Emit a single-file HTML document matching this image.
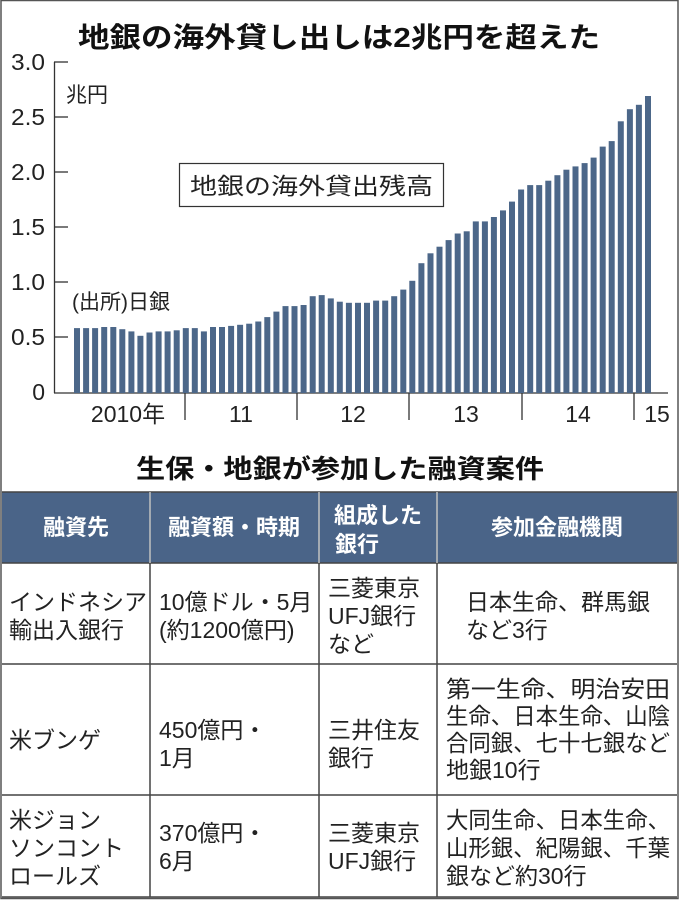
<!DOCTYPE html>
<html><head><meta charset="utf-8"><style>
html,body{margin:0;padding:0;background:#fff;}
body{width:680px;height:900px;position:relative;overflow:hidden;font-family:"Liberation Sans","Noto Sans CJK JP",sans-serif;}
svg{position:absolute;left:0;top:0;}
</style></head><body>
<svg width="680" height="900" viewBox="0 0 680 900" xmlns="http://www.w3.org/2000/svg" font-family="Liberation Sans, Noto Sans CJK JP, sans-serif">
<rect x="1" y="0.5" width="677" height="898" fill="none" stroke="#555" stroke-width="1.5"/>
<text x="78" y="47" font-size="28" font-weight="bold" fill="#111" textLength="522" lengthAdjust="spacingAndGlyphs">地銀の海外貸し出しは2兆円を超えた</text>
<g font-size="23" fill="#222" text-anchor="end">
<text x="45" y="70" textLength="34" lengthAdjust="spacingAndGlyphs">3.0</text>
<text x="45" y="125" textLength="34" lengthAdjust="spacingAndGlyphs">2.5</text>
<text x="45" y="180" textLength="34" lengthAdjust="spacingAndGlyphs">2.0</text>
<text x="45" y="235" textLength="34" lengthAdjust="spacingAndGlyphs">1.5</text>
<text x="45" y="290" textLength="34" lengthAdjust="spacingAndGlyphs">1.0</text>
<text x="45" y="345" textLength="34" lengthAdjust="spacingAndGlyphs">0.5</text>
<text x="45" y="400">0</text>
</g>
<g stroke="#333" stroke-width="1.3">
<line x1="54.5" y1="62" x2="54.5" y2="393"/>
<line x1="54" y1="62" x2="68" y2="62"/>
<line x1="54" y1="117" x2="68" y2="117"/>
<line x1="54" y1="172" x2="68" y2="172"/>
<line x1="54" y1="227" x2="68" y2="227"/>
<line x1="54" y1="282" x2="68" y2="282"/>
<line x1="54" y1="337" x2="68" y2="337"/>
<line x1="54" y1="393" x2="668" y2="393"/>
<line x1="185" y1="393" x2="185" y2="420"/>
<line x1="297" y1="393" x2="297" y2="420"/>
<line x1="409" y1="393" x2="409" y2="420"/>
<line x1="522" y1="393" x2="522" y2="420"/>
<line x1="634" y1="393" x2="634" y2="420"/>
</g>
<text x="66" y="102" font-size="21" fill="#222">兆円</text>
<text x="72" y="309" font-size="21" fill="#222">(出所)日銀</text>
<rect x="179.5" y="163.5" width="264" height="43" fill="#fff" stroke="#333" stroke-width="1.2"/>
<text x="190" y="194" font-size="23" fill="#222" textLength="243" lengthAdjust="spacingAndGlyphs">地銀の海外貸出残高</text>
<g font-size="23" fill="#222" text-anchor="middle">
<text x="128" y="422">2010年</text>
<text x="241" y="422">11</text>
<text x="353" y="422">12</text>
<text x="466" y="422">13</text>
<text x="578" y="422">14</text>
<text x="657" y="422">15</text>
</g>
<g id="bars" fill="#4c6789"></g>
<text x="340" y="478" font-size="26" font-weight="bold" fill="#111" text-anchor="middle" textLength="408" lengthAdjust="spacingAndGlyphs">生保・地銀が参加した融資案件</text>
<rect x="2" y="492" width="675" height="71" fill="#4a6488"/>
<g stroke="#444" stroke-width="1.5">
<line x1="2" y1="492" x2="677" y2="492"/>
<line x1="2" y1="563" x2="677" y2="563"/>
<line x1="2" y1="664" x2="677" y2="664"/>
<line x1="2" y1="795" x2="677" y2="795"/>
<line x1="2" y1="897" x2="677" y2="897"/>
<line x1="150" y1="492" x2="150" y2="897"/>
<line x1="319" y1="492" x2="319" y2="897"/>
<line x1="437" y1="492" x2="437" y2="897"/>
</g>
<g stroke="#fff" stroke-width="1"><line x1="150" y1="492" x2="150" y2="563"/><line x1="319" y1="492" x2="319" y2="563"/><line x1="437" y1="492" x2="437" y2="563"/></g>
<g font-size="22" font-weight="bold" fill="#fff" text-anchor="middle">
<text x="76" y="535">融資先</text>
<text x="234" y="535">融資額・時期</text>
<text x="378" y="523">組成した</text>
<text x="357" y="552">銀行</text>
<text x="557" y="535">参加金融機関</text>
</g>
<g font-size="23" fill="#222">
<text x="9" y="610">インドネシア</text><text x="9" y="638">輸出入銀行</text>
<text x="159" y="610">10億ドル・5月</text><text x="159" y="638">(約1200億円)</text>
<text x="328" y="596">三菱東京</text><text x="328" y="624">UFJ銀行</text><text x="328" y="652">など</text>
<text x="466" y="610">日本生命、群馬銀</text><text x="466" y="638">など3行</text>
<text x="9" y="748">米ブンゲ</text>
<text x="159" y="738">450億円・</text><text x="159" y="766">1月</text>
<text x="328" y="738">三井住友</text><text x="328" y="766">銀行</text>
<text x="446" y="697" textLength="224" lengthAdjust="spacingAndGlyphs">第一生命、明治安田</text><text x="446" y="724" textLength="224" lengthAdjust="spacingAndGlyphs">生命、日本生命、山陰</text><text x="446" y="751" textLength="224" lengthAdjust="spacingAndGlyphs">合同銀、七十七銀など</text><text x="446" y="778">地銀10行</text>
<text x="9" y="828">米ジョン</text><text x="9" y="856">ソンコント</text><text x="9" y="884">ロールズ</text>
<text x="159" y="841">370億円・</text><text x="159" y="869">6月</text>
<text x="328" y="841">三菱東京</text><text x="328" y="869">UFJ銀行</text>
<text x="446" y="828" textLength="224" lengthAdjust="spacingAndGlyphs">大同生命、日本生命、</text><text x="446" y="856" textLength="224" lengthAdjust="spacingAndGlyphs">山形銀、紀陽銀、千葉</text><text x="446" y="884">銀など約30行</text>
</g>
</svg>
<script>
var v=[0.59,0.59,0.59,0.60,0.60,0.58,0.56,0.52,0.55,0.56,0.56,0.57,
0.59,0.59,0.56,0.60,0.60,0.61,0.62,0.63,0.65,0.69,0.74,0.79,
0.79,0.80,0.88,0.89,0.86,0.83,0.82,0.82,0.82,0.84,0.84,0.88,0.94,1.02,
1.18,1.27,1.33,1.39,1.45,1.47,1.56,1.56,1.60,1.66,1.74,1.85,
1.89,1.89,1.93,1.98,2.03,2.06,2.09,2.14,2.24,2.29,2.47,2.58,2.62,2.70];
var g=document.getElementById('bars');var n=v.length;var s='';
for(var i=0;i<n;i++){var x=74+i*(651-74-6)/(n-1);var h=v[i]*110;
s+='<rect x="'+x.toFixed(1)+'" y="'+(393-h).toFixed(1)+'" width="6" height="'+h.toFixed(1)+'"/>';}
g.innerHTML=s;
</script>
</body></html>
